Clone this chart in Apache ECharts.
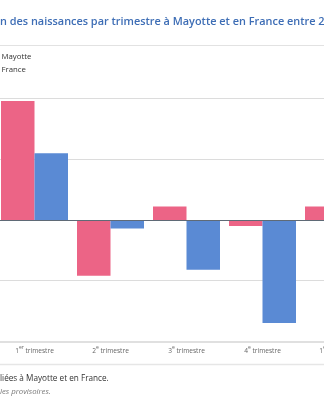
<!DOCTYPE html>
<html lang="fr">
<head>
<meta charset="utf-8">
<title>Naissances par trimestre à Mayotte et en France</title>
<script src="https://cdn.jsdelivr.net/npm/echarts@6/dist/echarts.min.js"></script>
<style>
  html, body { margin: 0; padding: 0; background: #fff; overflow: hidden; width: 324px; height: 400px; }
  #chart { position: absolute; left: -60px; top: 0; width: 450px; height: 400px; }
</style>
</head>
<body>
<div id="chart"></div>
<script>
// Trimestres affichés
const categories = ['1er trimestre', '2e trimestre', '3e trimestre', '4e trimestre', '1er trimestre'];
// Évolution des naissances (%)
const mayotte = [9.8, -4.6, 1.1, -0.5, 1.1];
const france = [5.5, -0.7, -4.1, -8.5, null];
// Graduations de l'axe vertical
const yTicks = [-10, -5, 0, 5, 10];

const titleText = 'Évolution des naissances par trimestre à Mayotte et en France entre 2023 et 2024';
const sourceText = 'Champ : naissances domiciliées à Mayotte et en France.';
const noteText = 'Note : données trimestrielles provisoires.';

const FONT = '"Open Sans", "DejaVu Sans", sans-serif';
const SHIFT = 60; // part du graphique masquée à gauche

const ctx = document.createElement('canvas').getContext('2d');
function textWidth(str, font) { ctx.font = font; return ctx.measureText(str).width; }

const titleOffset = textWidth('Évolutio', '600 10.9px ' + FONT);
const sourceOffset = textWidth('Champ : naissances domici', '8.2px ' + FONT);
const noteOffset = textWidth('Note : données trimestriel', 'italic 7.8px ' + FONT);

const chart = echarts.init(document.getElementById('chart'), null, { renderer: 'canvas' });

chart.setOption({
  animation: false,
  backgroundColor: '#fff',
  title: {
    text: titleText,
    left: SHIFT - titleOffset,
    top: 16.5,
    padding: 0,
    textStyle: { color: '#3d6db5', fontFamily: FONT, fontSize: 10.9, fontWeight: 600 }
  },
  legend: {
    orient: 'vertical',
    left: SHIFT + 1.5 - 19,
    top: 52,
    padding: 0,
    itemWidth: 14,
    itemHeight: 9,
    itemGap: 3.8,
    icon: 'rect',
    textStyle: { color: '#333', fontFamily: FONT, fontSize: 7.8, lineHeight: 9 },
    data: ['Mayotte', 'France']
  },
  grid: { left: SHIFT - 3.5, width: 380, top: 98.5, height: 242.8, containLabel: false },
  xAxis: {
    type: 'category',
    data: categories,
    axisTick: { show: false },
    axisLine: { onZero: false, lineStyle: { color: '#e0e0e0', width: 2 } },
    axisLabel: {
      margin: 4,
      interval: 0,
      formatter: function (v) {
        const m = v.match(/^(\d)(er|e) (.*)$/);
        return m ? '{n|' + m[1] + '}{s|' + m[2] + '}{t| ' + m[3] + '}' : v;
      },
      rich: {
        n: { fontFamily: FONT, fontSize: 6.6, color: '#666', lineHeight: 9, verticalAlign: 'bottom' },
        s: { fontFamily: FONT, fontSize: 5, color: '#666', lineHeight: 9, verticalAlign: 'top' },
        t: { fontFamily: FONT, fontSize: 6.6, color: '#666', lineHeight: 9, verticalAlign: 'bottom' }
      }
    }
  },
  yAxis: {
    type: 'value',
    min: yTicks[0],
    max: yTicks[yTicks.length - 1],
    interval: yTicks[1] - yTicks[0],
    axisLine: { show: false },
    axisTick: { show: false },
    axisLabel: { color: '#666', fontFamily: FONT, fontSize: 7 },
    splitLine: { lineStyle: { color: '#dcdcdc', width: 1 } }
  },
  series: [
    {
      name: 'Mayotte',
      type: 'bar',
      data: mayotte,
      barWidth: 33.5,
      barGap: '0%',
      itemStyle: { color: '#ec6486' },
      markLine: {
        silent: true,
        symbol: ['none', 'none'],
        label: { show: false },
        lineStyle: { color: '#5f6a76', width: 1, type: 'solid' },
        data: [{ yAxis: 0 }]
      }
    },
    {
      name: 'France',
      type: 'bar',
      data: france,
      barWidth: 33.5,
      barGap: '0%',
      itemStyle: { color: '#5a8ad4' }
    }
  ],
  graphic: [
    { type: 'line', silent: true, shape: { x1: 0, y1: 45.5, x2: 450, y2: 45.5 }, style: { stroke: '#e2e2e2', lineWidth: 1 } },
    { type: 'line', silent: true, shape: { x1: 0, y1: 364.5, x2: 450, y2: 364.5 }, style: { stroke: '#e6e6e6', lineWidth: 1.5 } },
    {
      type: 'text', silent: true, left: SHIFT - sourceOffset, top: 374.5,
      style: { text: sourceText, fill: '#333', font: '8.2px ' + FONT }
    },
    {
      type: 'text', silent: true, left: SHIFT - noteOffset, top: 387.5,
      style: { text: noteText, fill: '#777', font: 'italic 7.8px ' + FONT }
    }
  ]
});
</script>
</body>
</html>
